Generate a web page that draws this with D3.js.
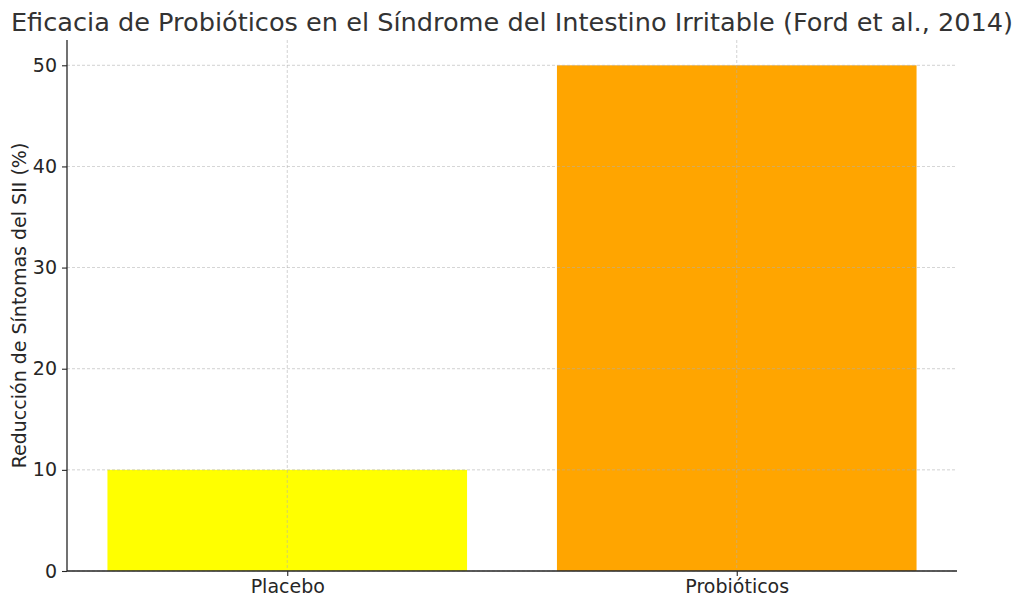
<!DOCTYPE html>
<html><head><meta charset="utf-8">
<script src="https://cdn.jsdelivr.net/npm/d3@7"></script>
<style>body{margin:0;background:#fff;} svg{display:block;font-family:"DejaVu Sans",sans-serif;}</style>
</head><body>
<svg id="c" width="1024" height="607"></svg>
<script>
const categories = ["Placebo", "Probióticos"];
const values = [10, 50];
const colors = ["#ffff00", "#ffa500"];
const yTicks = [0, 10, 20, 30, 40, 50];
const title = "Eficacia de Probióticos en el Síndrome del Intestino Irritable (Ford et al., 2014)";
const yLabel = "Reducción de Síntomas del SII (%)";

const svg = d3.select("#c");
const L = 67, R = 957, T = 40, B = 571;
const x = d3.scaleLinear().domain([-0.49, 1.49]).range([L, R]);
const y = d3.scaleLinear().domain([0, 52.5]).range([B, T]);
const bw = x(0.4) - x(-0.4);

// bars
svg.selectAll("rect.bar").data(values).enter().append("rect")
  .attr("x", (d, i) => x(i) - bw / 2).attr("width", bw)
  .attr("y", d => y(d)).attr("height", d => y(0) - y(d))
  .attr("fill", (d, i) => colors[i]);

// grid
const g = svg.append("g");
g.selectAll("line.hy").data(yTicks).enter().append("line")
  .attr("x1", L).attr("x2", R).attr("y1", d => y(d)).attr("y2", d => y(d))
  .attr("stroke", "#b0b0b0").attr("stroke-width", 0.8).attr("stroke-dasharray", "3,2").attr("opacity", 0.7);
g.selectAll("line.vx").data(categories).enter().append("line")
  .attr("y1", T).attr("y2", B).attr("x1", (d, i) => x(i)).attr("x2", (d, i) => x(i))
  .attr("stroke", "#b0b0b0").attr("stroke-width", 0.8).attr("stroke-dasharray", "3,2").attr("opacity", 0.7);

// axes
const ya = svg.append("g").attr("transform", `translate(${L},0)`)
  .call(d3.axisLeft(y).tickValues(yTicks).tickSize(5).tickPadding(5));
const xa = svg.append("g").attr("transform", `translate(0,${B})`)
  .call(d3.axisBottom(x).tickValues([0, 1]).tickFormat((d) => categories[d]).tickSize(5).tickPadding(4));
[ya, xa].forEach(a => {
  a.select(".domain").attr("stroke", "#262626").attr("stroke-width", 1.3);
  a.selectAll(".tick line").attr("stroke", "#262626").attr("stroke-width", 1.1);
  a.selectAll(".tick text").attr("fill", "#262626").style("font-size", "19px").style("font-family", "DejaVu Sans");
});
ya.select(".domain").attr("d", `M0,${B}V${T}`);
xa.select(".domain").attr("d", `M${L},0H${R}`);

svg.append("text").attr("x", 512).attr("y", 31).attr("text-anchor", "middle")
  .attr("fill", "#333").style("font-size", "25.6px").text(title);
svg.append("text").attr("transform", `translate(26,${(T + B) / 2}) rotate(-90)`)
  .attr("text-anchor", "middle").attr("fill", "#262626").style("font-size", "19px").text(yLabel);
</script>
</body></html>
